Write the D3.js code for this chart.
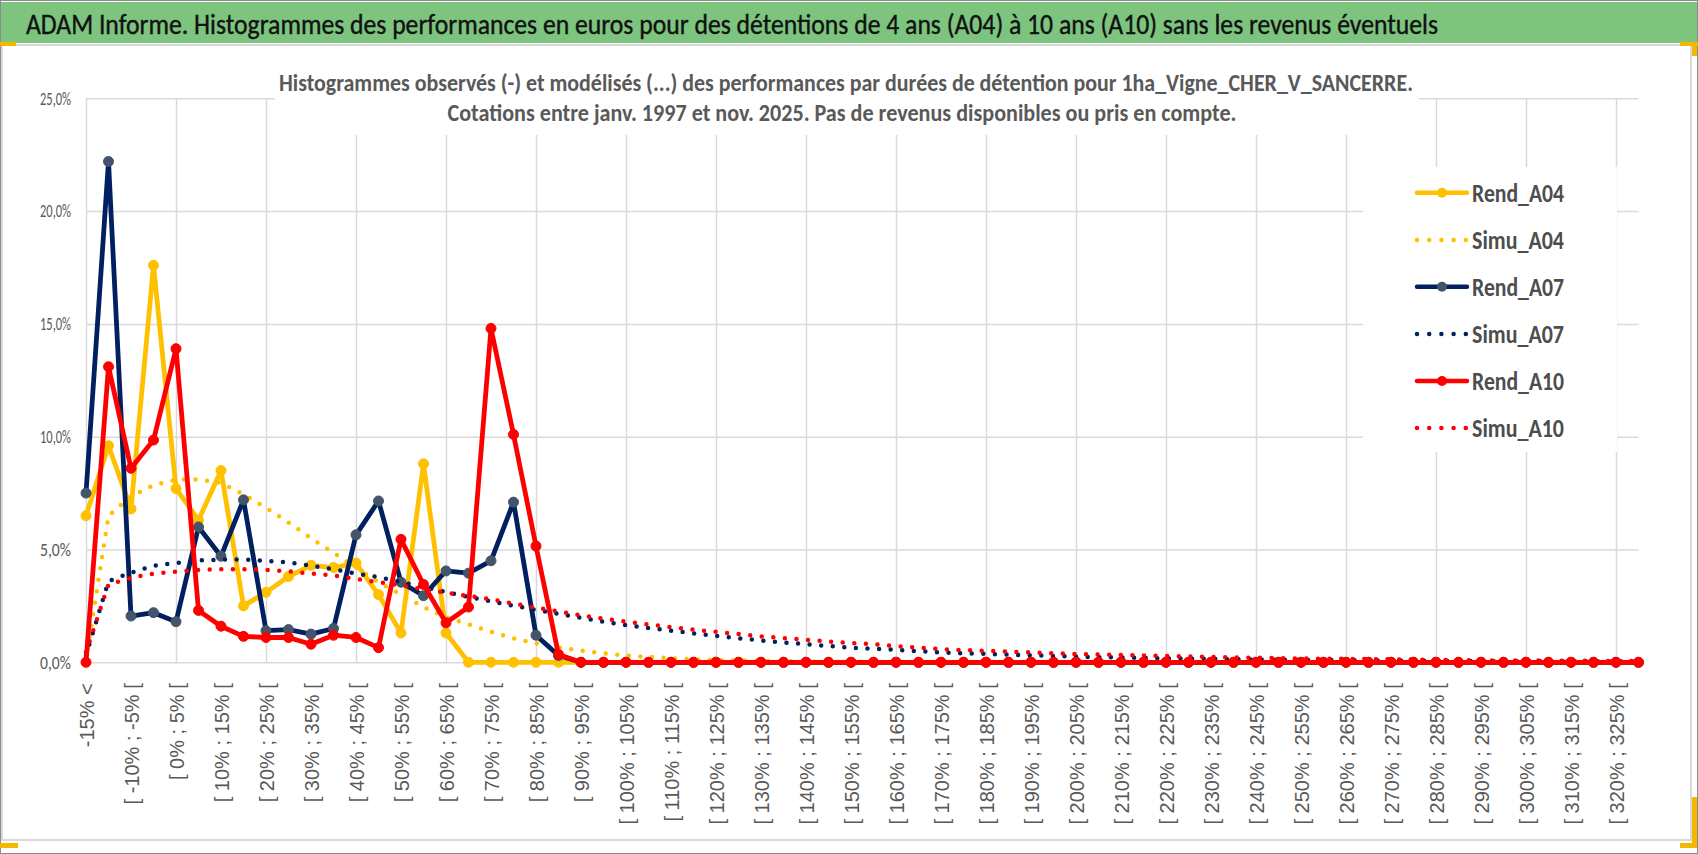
<!DOCTYPE html>
<html>
<head>
<meta charset="utf-8">
<script src="https://cdn.jsdelivr.net/npm/d3@7/dist/d3.min.js"></script>
<style>
  body { margin: 0; background: #fff; }
  svg { display: block; }
</style>
</head>
<body>
<svg id="chart" width="1698" height="854"></svg>
<script>
// categories (performance classes, 5% wide)
const categories = [
  "-15% <", "[ -15% ; -10% [", "[ -10% ; -5% [", "[ -5% ; 0% [", "[ 0% ; 5% [",
  "[ 5% ; 10% [", "[ 10% ; 15% [", "[ 15% ; 20% [", "[ 20% ; 25% [", "[ 25% ; 30% [",
  "[ 30% ; 35% [", "[ 35% ; 40% [", "[ 40% ; 45% [", "[ 45% ; 50% [", "[ 50% ; 55% [",
  "[ 55% ; 60% [", "[ 60% ; 65% [", "[ 65% ; 70% [", "[ 70% ; 75% [", "[ 75% ; 80% [",
  "[ 80% ; 85% [", "[ 85% ; 90% [", "[ 90% ; 95% [", "[ 95% ; 100% [", "[ 100% ; 105% [",
  "[ 105% ; 110% [", "[ 110% ; 115% [", "[ 115% ; 120% [", "[ 120% ; 125% [", "[ 125% ; 130% [",
  "[ 130% ; 135% [", "[ 135% ; 140% [", "[ 140% ; 145% [", "[ 145% ; 150% [", "[ 150% ; 155% [",
  "[ 155% ; 160% [", "[ 160% ; 165% [", "[ 165% ; 170% [", "[ 170% ; 175% [", "[ 175% ; 180% [",
  "[ 180% ; 185% [", "[ 185% ; 190% [", "[ 190% ; 195% [", "[ 195% ; 200% [", "[ 200% ; 205% [",
  "[ 205% ; 210% [", "[ 210% ; 215% [", "[ 215% ; 220% [", "[ 220% ; 225% [", "[ 225% ; 230% [",
  "[ 230% ; 235% [", "[ 235% ; 240% [", "[ 240% ; 245% [", "[ 245% ; 250% [", "[ 250% ; 255% [",
  "[ 255% ; 260% [", "[ 260% ; 265% [", "[ 265% ; 270% [", "[ 270% ; 275% [", "[ 275% ; 280% [",
  "[ 280% ; 285% [", "[ 285% ; 290% [", "[ 290% ; 295% [", "[ 295% ; 300% [", "[ 300% ; 305% [",
  "[ 305% ; 310% [", "[ 310% ; 315% [", "[ 315% ; 320% [", "[ 320% ; 325% [", "[ 325% ; 330% ["
];

// observed histograms (% of holdings)
const rendA04 = [6.5, 9.6, 6.8, 17.6, 7.7, 6.3, 8.5, 2.5, 3.1, 3.8,
  4.3, 4.2, 4.4, 3.0, 1.3, 8.8, 1.3, 0, 0, 0,
  0, 0, 0, 0, 0, 0, 0, 0, 0, 0,
  0, 0, 0, 0, 0, 0, 0, 0, 0, 0,
  0, 0, 0, 0, 0, 0, 0, 0, 0, 0,
  0, 0, 0, 0, 0, 0, 0, 0, 0, 0,
  0, 0, 0, 0, 0, 0, 0, 0, 0, 0];
const rendA07 = [7.5, 22.2, 2.05, 2.2, 1.8, 6.0, 4.7, 7.2, 1.4, 1.45,
  1.25, 1.5, 5.65, 7.15, 3.55, 2.95, 4.05, 3.95, 4.5, 7.1,
  1.2, 0.3, 0, 0, 0, 0, 0, 0, 0, 0,
  0, 0, 0, 0, 0, 0, 0, 0, 0, 0,
  0, 0, 0, 0, 0, 0, 0, 0, 0, 0,
  0, 0, 0, 0, 0, 0, 0, 0, 0, 0,
  0, 0, 0, 0, 0, 0, 0, 0, 0, 0];
const rendA10 = [0, 13.1, 8.6, 9.85, 13.9, 2.3, 1.6, 1.15, 1.1, 1.1,
  0.8, 1.2, 1.1, 0.65, 5.45, 3.45, 1.75, 2.45, 14.8, 10.1,
  5.15, 0.35, 0, 0, 0, 0, 0, 0, 0, 0,
  0, 0, 0, 0, 0, 0, 0, 0, 0, 0,
  0, 0, 0, 0, 0, 0, 0, 0, 0, 0,
  0, 0, 0, 0, 0, 0, 0, 0, 0, 0,
  0, 0, 0, 0, 0, 0, 0, 0, 0, 0];

// modelled histograms
const simuA04 = [0.1, 6.5, 7.35, 7.85, 8.1, 8.1, 7.95, 7.45, 6.85, 6.2,
  5.5, 4.85, 4.2, 3.55, 3.0, 2.45, 2.0, 1.68, 1.36, 1.06,
  0.84, 0.66, 0.52, 0.4, 0.3, 0.24, 0.18, 0.13, 0.1, 0.08,
  0.06, 0.05, 0.04, 0.03, 0.02, 0.02, 0.01, 0.01, 0.01, 0.01,
  0.01, 0.01, 0.01, 0.01, 0.01, 0.01, 0, 0, 0, 0,
  0, 0, 0, 0, 0, 0, 0, 0, 0, 0,
  0, 0, 0, 0, 0, 0, 0, 0, 0, 0];
const simuA07 = [0.3, 3.6, 3.97, 4.28, 4.4, 4.52, 4.55, 4.56, 4.5, 4.43,
  4.28, 4.12, 3.94, 3.77, 3.56, 3.34, 3.12, 2.9, 2.7, 2.51,
  2.32, 2.15, 1.97, 1.8, 1.65, 1.52, 1.4, 1.28, 1.17, 1.06,
  0.97, 0.88, 0.8, 0.72, 0.65, 0.6, 0.55, 0.49, 0.44, 0.4,
  0.37, 0.34, 0.31, 0.28, 0.25, 0.23, 0.21, 0.19, 0.17, 0.16,
  0.15, 0.14, 0.13, 0.12, 0.11, 0.1, 0.09, 0.08, 0.08, 0.07,
  0.06, 0.06, 0.05, 0.05, 0.05, 0.04, 0.04, 0.04, 0.03, 0.03];
const simuA10 = [0.45, 3.45, 3.74, 3.93, 4.02, 4.09, 4.13, 4.13, 4.1, 4.03,
  3.94, 3.85, 3.7, 3.55, 3.4, 3.24, 3.09, 2.94, 2.8, 2.6,
  2.42, 2.26, 2.08, 1.93, 1.8, 1.68, 1.56, 1.45, 1.35, 1.25,
  1.15, 1.07, 1.0, 0.92, 0.85, 0.8, 0.72, 0.65, 0.58, 0.54,
  0.51, 0.47, 0.44, 0.4, 0.37, 0.34, 0.32, 0.3, 0.28, 0.26,
  0.24, 0.22, 0.2, 0.18, 0.17, 0.16, 0.15, 0.14, 0.13, 0.12,
  0.11, 0.1, 0.09, 0.08, 0.08, 0.07, 0.07, 0.06, 0.06, 0.05];

const yTicks = [0, 5, 10, 15, 20, 25];

const series = [
  { name: "Rend_A04", values: rendA04, color: "#FFC000", marker: "#FFC000", dotted: false },
  { name: "Simu_A04", values: simuA04, color: "#FFC000", dotted: true },
  { name: "Rend_A07", values: rendA07, color: "#002060", marker: "#44546A", dotted: false },
  { name: "Simu_A07", values: simuA07, color: "#002060", dotted: true },
  { name: "Rend_A10", values: rendA10, color: "#FF0000", marker: "#FF0000", dotted: false },
  { name: "Simu_A10", values: simuA10, color: "#FF0000", dotted: true }
];

const titleText = "ADAM Informe. Histogrammes des performances en euros pour des détentions de 4 ans (A04) à 10 ans (A10) sans les revenus éventuels";
const subTitle1 = "Histogrammes observés (-) et modélisés (...) des performances par durées de détention pour 1ha_Vigne_CHER_V_SANCERRE.";
const subTitle2 = "Cotations entre janv. 1997 et nov. 2025. Pas de revenus disponibles ou pris en compte.";

const W = 1698, H = 854;
const plot = { left: 86, right: 1638.5, top: 98.3, bottom: 662.3 };
const narrow = "Calibri, Carlito, 'Liberation Sans Narrow', 'Liberation Sans', Arial, sans-serif";
const axisFont = "'Liberation Sans', Arial, sans-serif";

const svg = d3.select("#chart");

// frame
svg.append("rect").attr("x", 0.5).attr("y", 0.5).attr("width", W - 1).attr("height", H - 1)
  .attr("fill", "#fff").attr("stroke", "#8c8c8c");
svg.append("rect").attr("x", 1).attr("y", 2).attr("width", W - 2).attr("height", 41)
  .attr("fill", "#7DC47F");
svg.append("rect").attr("x", 2).attr("y", 45).attr("width", 1689).attr("height", 795)
  .attr("fill", "none").attr("stroke", "#d9d9d9").attr("stroke-width", 2);

const orange = "#F5B800";
[[0, 42, 16, 4], [1680, 42, 18, 4], [1692, 42, 5, 14],
 [0, 843, 18, 5], [1680, 843, 17, 5], [1692, 797, 5, 51]].forEach(r => {
  svg.append("rect").attr("x", r[0]).attr("y", r[1]).attr("width", r[2]).attr("height", r[3])
    .attr("fill", orange);
});

svg.append("text")
  .attr("x", 26).attr("y", 24)
  .attr("dominant-baseline", "central")
  .attr("textLength", 1412).attr("lengthAdjust", "spacingAndGlyphs")
  .style("font-family", narrow).style("font-size", "29px").style("fill", "#111")
  .style("stroke", "#111").style("stroke-width", 0.4)
  .text(titleText);

// scales
const x = d3.scalePoint().domain(categories).range([plot.left, plot.right]).padding(0);
const y = d3.scaleLinear().domain([0, 25]).range([plot.bottom, plot.top]);
const frLocale = d3.formatLocale({ decimal: ",", thousands: " ", grouping: [3], currency: ["", "€"] });
const fmt = frLocale.format(".1f");

// grid
const gridV = svg.append("g")
  .attr("transform", `translate(0,${plot.bottom})`)
  .call(d3.axisBottom(x)
    .tickValues(categories.filter((d, i) => i % 4 === 0))
    .tickSize(-(plot.bottom - plot.top)).tickFormat(""));
gridV.select(".domain").remove();
gridV.selectAll("line").attr("stroke", "#d9d9d9").attr("stroke-width", 1.5);

const gridH = svg.append("g")
  .attr("transform", `translate(${plot.left},0)`)
  .call(d3.axisLeft(y).tickValues(yTicks)
    .tickSize(-(plot.right - plot.left)).tickPadding(15)
    .tickFormat(d => fmt(d) + "%"));
gridH.select(".domain").remove();
gridH.selectAll("line").attr("stroke", "#d9d9d9").attr("stroke-width", 1.5);
gridH.selectAll("text")
  .attr("textLength", 31).attr("lengthAdjust", "spacingAndGlyphs")
  .style("font-family", narrow).style("font-size", "18px")
  .style("fill", "#595959");

// subtitle box covers the grid behind it
svg.append("rect").attr("x", 275).attr("y", 58).attr("width", 1144).attr("height", 77)
  .attr("fill", "#fff");
svg.append("text")
  .attr("x", 846).attr("y", 82).attr("text-anchor", "middle")
  .attr("dominant-baseline", "central")
  .attr("textLength", 1134).attr("lengthAdjust", "spacingAndGlyphs")
  .style("font-family", narrow).style("font-size", "24px").style("font-weight", "700")
  .style("fill", "#595959")
  .text(subTitle1);
svg.append("text")
  .attr("x", 842).attr("y", 112).attr("text-anchor", "middle")
  .attr("dominant-baseline", "central")
  .attr("textLength", 789).attr("lengthAdjust", "spacingAndGlyphs")
  .style("font-family", narrow).style("font-size", "24px").style("font-weight", "700")
  .style("fill", "#595959")
  .text(subTitle2);

// x axis labels
const xAxis = svg.append("g")
  .attr("transform", `translate(0,${plot.bottom})`)
  .call(d3.axisBottom(x)
    .tickValues(categories.filter((d, i) => i % 2 === 0))
    .tickSize(0));
xAxis.select(".domain").remove();
xAxis.selectAll("line").remove();
xAxis.selectAll("text")
  .attr("transform", "rotate(-90)")
  .attr("text-anchor", "end")
  .attr("x", -21).attr("y", 0).attr("dy", "0.35em")
  .style("font-family", axisFont).style("font-size", "20px").style("fill", "#595959");

// legend background (drawn over grid, under the lines)
const legend = { x: 1363, y: 167, w: 254, h: 285 };
svg.append("rect").attr("x", legend.x).attr("y", legend.y)
  .attr("width", legend.w).attr("height", legend.h).attr("fill", "#fff");

// series
const line = d3.line()
  .x((d, i) => x(categories[i]))
  .y(d => y(d));

const plotG = svg.append("g");
series.forEach(s => {
  const path = plotG.append("path")
    .datum(s.values)
    .attr("fill", "none")
    .attr("stroke", s.color)
    .attr("stroke-linejoin", "round")
    .attr("d", line);
  if (s.dotted) {
    path.attr("stroke-width", 4.5)
      .attr("stroke-linecap", "round")
      .attr("stroke-dasharray", "0 11.6");
  } else {
    path.attr("stroke-width", 4.8);
    plotG.append("g").selectAll("circle")
      .data(s.values)
      .join("circle")
      .attr("cx", (d, i) => x(categories[i]))
      .attr("cy", d => y(d))
      .attr("r", 5)
      .attr("fill", s.marker)
      .attr("stroke", s.marker)
      .attr("stroke-width", 1);
  }
});

// legend
const legendRowY = [192.7, 240, 286.7, 334, 381, 428];
const lg = svg.append("g");
series.forEach((s, i) => {
  const yy = legendRowY[i];
  const l = lg.append("line")
    .attr("x1", 1417).attr("x2", 1467).attr("y1", yy).attr("y2", yy)
    .attr("stroke", s.color).attr("stroke-width", 4.5).attr("stroke-linecap", "round");
  if (s.dotted) {
    l.attr("stroke-dasharray", "0 12.2");
  } else {
    lg.append("circle").attr("cx", 1442).attr("cy", yy).attr("r", 5)
      .attr("fill", s.marker);
  }
  lg.append("text")
    .attr("x", 1472).attr("y", yy)
    .attr("dominant-baseline", "central")
    .attr("textLength", 92).attr("lengthAdjust", "spacingAndGlyphs")
    .style("font-family", narrow).style("font-size", "26px").style("font-weight", "700")
    .style("fill", "#4d4d4d")
    .text(s.name);
});
</script>
</body>
</html>
